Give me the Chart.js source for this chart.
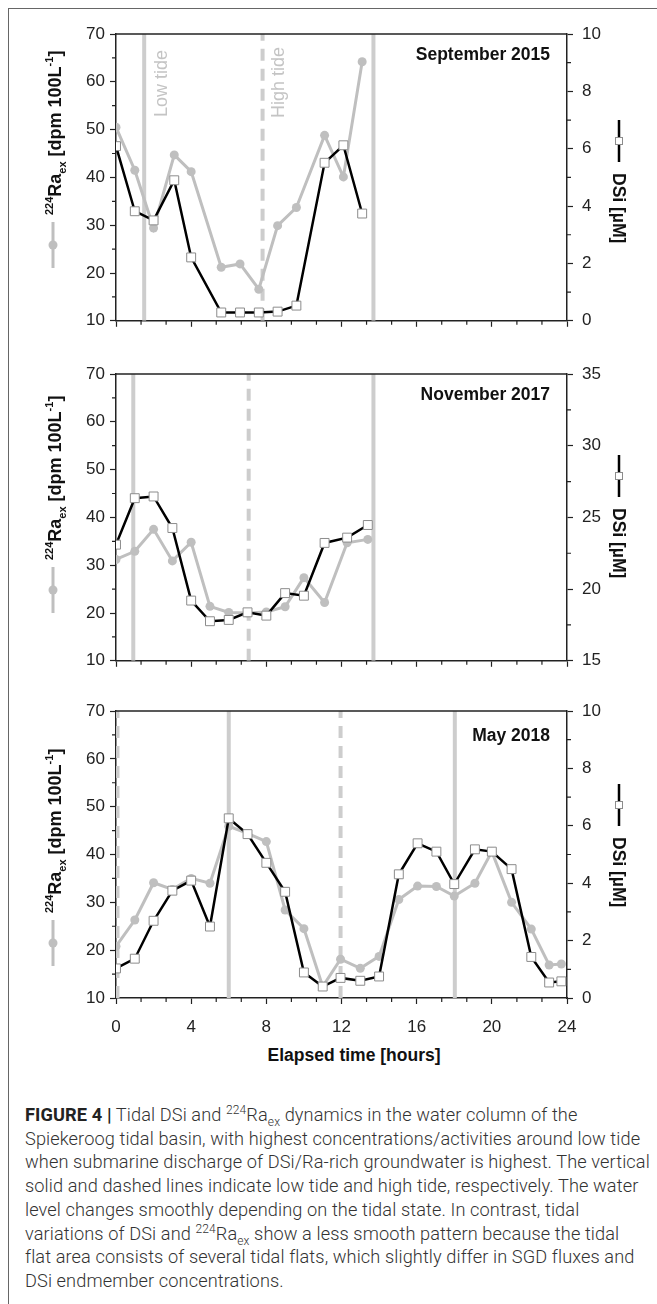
<!DOCTYPE html>
<html>
<head>
<meta charset="utf-8">
<script src="https://cdn.jsdelivr.net/npm/chart.js@4.4.1/dist/chart.umd.min.js"></script>
<style>
html, body { margin: 0; padding: 0; background: #fff; }
#page { position: relative; width: 657px; height: 1304px; overflow: hidden; }
#frame { position: absolute; left: 8px; top: 8px; width: 660px; height: 1310px; border-top: 1px solid #666; border-left: 1px solid #666; }
canvas { position: absolute; left: 0; }
#xtitle { position: absolute; left: 354px; top: 1055px; transform: translate(-50%, -50%);
  font: bold 17.5px "Liberation Sans", Arial, sans-serif; color: #111; white-space: nowrap; }
#caption { position: absolute; left: 25px; top: 1103px; font: 300 18.2px Roboto, sans-serif;
  line-height: 23.7px; color: #333; white-space: nowrap; letter-spacing: 0.1px; }
#caption b { font-weight: 700; color: #222; }
#caption sup, #caption sub { font-size: 12px; line-height: 0; }
</style>
</head>
<body>
<div id="page">
  <div id="frame"></div>
  <canvas id="sep" width="657" height="340" style="top:0px"></canvas>
  <canvas id="nov" width="657" height="340" style="top:340px"></canvas>
  <canvas id="may" width="657" height="360" style="top:680px"></canvas>
  <div id="xtitle">Elapsed time [hours]</div>
  <div id="caption">
    <b>FIGURE 4 |</b> Tidal DSi and <sup>224</sup>Ra<sub>ex</sub> dynamics in the water column of the<br>
    Spiekeroog tidal basin, with highest concentrations/activities around low tide<br>
    when submarine discharge of DSi/Ra-rich groundwater is highest. The vertical<br>
    solid and dashed lines indicate low tide and high tide, respectively. The water<br>
    level changes smoothly depending on the tidal state. In contrast, tidal<br>
    variations of DSi and <sup>224</sup>Ra<sub>ex</sub> show a less smooth pattern because the tidal<br>
    flat area consists of several tidal flats, which slightly differ in SGD fluxes and<br>
    DSi endmember concentrations.
  </div>
</div>
<script>
// September 2015
const timeSep = [0, 1.0, 2.0, 3.1, 4.0, 5.6, 6.6, 7.6, 8.6, 9.6, 11.1, 12.1, 13.1];
const raSep   = [50.5, 41.5, 29.4, 44.7, 41.2, 21.2, 21.9, 16.6, 29.9, 33.7, 48.8, 40.1, 64.2];
const dsiSep  = [6.09, 3.82, 3.5, 4.9, 2.21, 0.29, 0.29, 0.29, 0.32, 0.53, 5.51, 6.12, 3.74];
const lowSep  = [1.5, 13.7];
const highSep = [7.8];

// November 2017
const timeNov = [0, 1, 2, 3, 4, 5, 6, 7, 8, 9, 10, 11.1, 12.3, 13.4];
const raNov   = [31.2, 32.9, 37.5, 30.9, 34.8, 21.4, 20.1, 20.0, 20.2, 21.3, 27.4, 22.2, 34.7, 35.4];
const dsiNov  = [23.1, 26.34, 26.46, 24.26, 19.2, 17.76, 17.85, 18.38, 18.15, 19.72, 19.54, 23.22, 23.59, 24.47];
const lowNov  = [0.92, 13.7];
const highNov = [7.06];

// May 2018
const timeMay = [0, 1, 2, 3, 4, 5, 6, 7, 8, 9, 10, 11, 11.95, 13, 14, 15.05, 16.05, 17.05, 18, 19.1, 20, 21.05, 22.1, 23.05, 23.7];
const raMay   = [20.8, 26.3, 34.1, 32.7, 35.0, 34.0, 45.9, 44.4, 42.7, 28.4, 24.5, 12.4, 18.1, 16.2, 18.7, 30.6, 33.4, 33.3, 31.3, 34.0, 40.6, 30.0, 24.4, 16.9, 17.1];
const dsiMay  = [1.03, 1.37, 2.69, 3.74, 4.09, 2.49, 6.26, 5.71, 4.71, 3.70, 0.89, 0.40, 0.70, 0.60, 0.75, 4.31, 5.39, 5.10, 3.97, 5.18, 5.10, 4.49, 1.43, 0.54, 0.58];
const lowMay  = [6.0, 18.03];
const highMay = [0.08, 11.95];

// axis ticks
const xTicks = [0, 4, 8, 12, 16, 20, 24];
const raTicks = [10, 20, 30, 40, 50, 60, 70];

const FONT = '"Liberation Sans", Arial, sans-serif';
const INK = '#222';
const RA_GREY = '#bfbfbf';
const TIDE_GREY = '#cdcdcd';

Chart.defaults.font.family = FONT;

function pts(xs, ys) {
    return xs.map((x, i) => ({ x: x, y: ys[i] }));
}

function tideLine(t, dashed) {
    return {
        data: [{ x: t, y: raTicks[0] }, { x: t, y: raTicks[raTicks.length - 1] }],
        yAxisID: 'y',
        order: 3,
        borderColor: TIDE_GREY,
        borderWidth: 4,
        borderDash: dashed ? [12, 8] : [],
        pointRadius: 0
    };
}

// text runs drawn along a rotated baseline (for super/subscripts)
function rich(ctx, runs, x, y, rot, color) {
    ctx.save();
    ctx.translate(x, y);
    ctx.rotate(rot);
    ctx.fillStyle = color;
    ctx.textAlign = 'left';
    ctx.textBaseline = 'alphabetic';
    let cx = 0;
    runs.forEach(r => {
        ctx.font = (r.w || 'bold') + ' ' + r.s + 'px ' + FONT;
        ctx.fillText(r.t, cx, r.dy || 0);
        cx += ctx.measureText(r.t).width;
    });
    ctx.restore();
}

function decor(o) {
    return {
        id: 'decor',
        afterDraw(chart) {
            const ctx = chart.ctx, a = chart.chartArea;
            const sx = chart.scales.x, sy = chart.scales.y, sr = chart.scales.y2;
            ctx.save();

            // top frame line
            ctx.strokeStyle = INK;
            ctx.lineWidth = 1.5;
            ctx.beginPath();
            ctx.moveTo(a.left, a.top);
            ctx.lineTo(a.right, a.top);
            ctx.stroke();

            // minor ticks
            ctx.lineWidth = 1.2;
            const minor = (scale, step, major, draw) => {
                const n = Math.round((scale.max - scale.min) / step);
                for (let i = 0; i <= n; i++) {
                    const v = scale.min + i * step;
                    const q = (v - scale.min) / major;
                    if (Math.abs(q - Math.round(q)) < 1e-6) continue;
                    draw(scale.getPixelForValue(v));
                }
            };
            ctx.beginPath();
            minor(sx, 4 / 3, 4, p => { ctx.moveTo(p, a.bottom); ctx.lineTo(p, a.bottom + 4); });
            minor(sy, 5, 10, p => { ctx.moveTo(a.left, p); ctx.lineTo(a.left - 4, p); });
            minor(sr, o.rStep / 2, o.rStep, p => { ctx.moveTo(a.right, p); ctx.lineTo(a.right + 4, p); });
            ctx.stroke();

            // panel label
            ctx.fillStyle = '#111';
            ctx.font = 'bold 17.5px ' + FONT;
            ctx.textAlign = 'right';
            ctx.textBaseline = 'middle';
            ctx.fillText(o.label, 550, a.top + o.labelDy);

            // tide labels (first panel only)
            if (o.tideText) {
                rich(ctx, [{ t: 'Low tide', s: 18, w: 'normal' }], sx.getPixelForValue(o.low[0]) + 23, a.top + 83, -Math.PI / 2, '#c4c4c4');
                rich(ctx, [{ t: 'High tide', s: 18, w: 'normal' }], sx.getPixelForValue(o.high[0]) + 21, a.top + 84, -Math.PI / 2, '#c4c4c4');
            }

            // left axis title with legend symbol
            const ly = a.top + o.leftStart;
            rich(ctx, [
                { t: '224', s: 11, dy: -8 },
                { t: 'Ra', s: 18 },
                { t: 'ex', s: 11, dy: 5 },
                { t: ' [dpm 100L', s: 18 },
                { t: '-1', s: 11, dy: -8 },
                { t: ']', s: 18 }
            ], 61, ly, -Math.PI / 2, '#111');
            const cy = ly + 30;
            ctx.strokeStyle = RA_GREY;
            ctx.lineWidth = 3;
            ctx.beginPath();
            ctx.moveTo(53, cy - 23);
            ctx.lineTo(53, cy + 23);
            ctx.stroke();
            ctx.fillStyle = RA_GREY;
            ctx.beginPath();
            ctx.arc(53, cy, 4.5, 0, Math.PI * 2);
            ctx.fill();

            // right axis title with legend symbol
            const ry = a.top + o.rightStart;
            const sq = ry - 32;
            ctx.strokeStyle = '#000';
            ctx.lineWidth = 2.5;
            ctx.beginPath();
            ctx.moveTo(619, sq - 21);
            ctx.lineTo(619, sq + 21);
            ctx.stroke();
            ctx.fillStyle = '#fff';
            ctx.fillRect(615.5, sq - 3.5, 7, 7);
            ctx.strokeStyle = '#8c8c8c';
            ctx.lineWidth = 1;
            ctx.strokeRect(615.5, sq - 3.5, 7, 7);
            rich(ctx, [{ t: 'DSi [\u00b5M]', s: 17.5 }], 612.5, ry, Math.PI / 2, '#111');

            ctx.restore();
        }
    };
}

function panel(id, o) {
    const ds = [];
    o.low.forEach(t => ds.push(tideLine(t, false)));
    o.high.forEach(t => ds.push(tideLine(t, true)));
    ds.push({
        label: 'DSi',
        data: pts(o.time, o.dsi),
        yAxisID: 'y2',
        order: 1,
        borderColor: '#000',
        borderWidth: 2.5,
        pointStyle: 'rect',
        pointRadius: 6.3,
        pointBackgroundColor: '#fff',
        pointBorderColor: '#8c8c8c',
        pointBorderWidth: 1
    });
    ds.push({
        label: 'Ra',
        data: pts(o.time, o.ra),
        yAxisID: 'y',
        order: 2,
        borderColor: RA_GREY,
        borderWidth: 3,
        pointStyle: 'circle',
        pointRadius: 4.5,
        pointBackgroundColor: RA_GREY,
        pointBorderColor: RA_GREY,
        pointBorderWidth: 0
    });

    const tickFont = { family: FONT, size: 17 };
    const grid = { drawOnChartArea: false, drawTicks: true, tickLength: 6, tickWidth: 1.2, tickColor: INK };
    const border = { display: true, color: INK, width: 1.5 };

    new Chart(document.getElementById(id), {
        type: 'line',
        data: { datasets: ds },
        options: {
            responsive: false,
            animation: false,
            events: [],
            layout: { padding: { top: o.padTop, left: 0, right: 0, bottom: 0 } },
            plugins: { legend: { display: false }, tooltip: { enabled: false } },
            scales: {
                x: {
                    type: 'linear',
                    position: 'bottom',
                    min: xTicks[0],
                    max: xTicks[xTicks.length - 1],
                    ticks: { display: o.xLabels, stepSize: 4, padding: 13, color: INK, font: tickFont },
                    grid: grid,
                    border: border,
                    afterFit: s => { s.height = o.xHeight; }
                },
                y: {
                    position: 'left',
                    min: raTicks[0],
                    max: raTicks[raTicks.length - 1],
                    ticks: { stepSize: 10, padding: 5, color: INK, font: tickFont },
                    grid: grid,
                    border: border,
                    afterFit: s => { s.width = 116; }
                },
                y2: {
                    position: 'right',
                    min: o.rTicks[0],
                    max: o.rTicks[o.rTicks.length - 1],
                    ticks: { stepSize: o.rStep, padding: 9, color: INK, font: tickFont },
                    grid: grid,
                    border: border,
                    afterFit: s => { s.width = 90; }
                }
            }
        },
        plugins: [decor(o)]
    });
}

panel('sep', {
    time: timeSep, ra: raSep, dsi: dsiSep, low: lowSep, high: highSep,
    rTicks: [0, 2, 4, 6, 8, 10], rStep: 2,
    label: 'September 2015', labelDy: 21, tideText: true,
    padTop: 34, xHeight: 18, xLabels: false,
    leftStart: 181, rightStart: 139
});

panel('nov', {
    time: timeNov, ra: raNov, dsi: dsiNov, low: lowNov, high: highNov,
    rTicks: [15, 20, 25, 30, 35], rStep: 5,
    label: 'November 2017', labelDy: 21, tideText: false,
    padTop: 34, xHeight: 18, xLabels: false,
    leftStart: 186, rightStart: 134
});

panel('may', {
    time: timeMay, ra: raMay, dsi: dsiMay, low: lowMay, high: highMay,
    rTicks: [0, 2, 4, 6, 8, 10], rStep: 2,
    label: 'May 2018', labelDy: 25, tideText: false,
    padTop: 31, xHeight: 42, xLabels: true,
    leftStart: 202, rightStart: 126
});
</script>
</body>
</html>
